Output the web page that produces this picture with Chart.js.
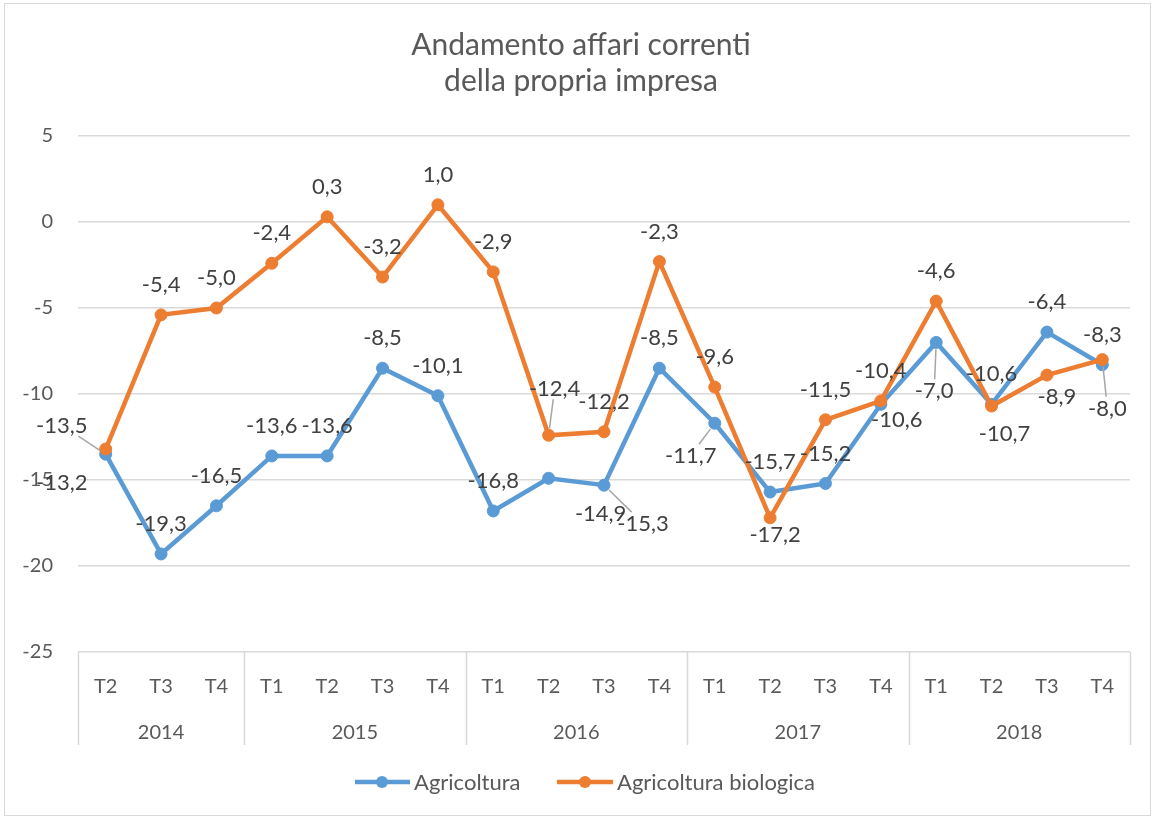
<!DOCTYPE html>
<html>
<head>
<meta charset="utf-8">
<script src="https://cdn.jsdelivr.net/npm/chart.js@4.4.1/dist/chart.umd.min.js"></script>
<style>
  html, body { margin: 0; padding: 0; background: #ffffff; }
  canvas { display: block; }
</style>
</head>
<body>
<canvas id="c" width="1156" height="818"></canvas>
<script>
// ---------- data ----------
const titleLines = ['Andamento affari correnti', 'della propria impresa'];
const quarters = ['T2','T3','T4','T1','T2','T3','T4','T1','T2','T3','T4','T1','T2','T3','T4','T1','T2','T3','T4'];
const years = ['2014','2015','2016','2017','2018'];
const yearSpans = [3, 4, 4, 4, 4];
const seriesNames = ['Agricoltura', 'Agricoltura biologica'];
const agricoltura = [-13.5,-19.3,-16.5,-13.6,-13.6,-8.5,-10.1,-16.8,-14.9,-15.3,-8.5,-11.7,-15.7,-15.2,-10.6,-7.0,-10.6,-6.4,-8.3];
const biologica   = [-13.2,-5.4,-5.0,-2.4,0.3,-3.2,1.0,-2.9,-12.4,-12.2,-2.3,-9.6,-17.2,-11.5,-10.4,-4.6,-10.7,-8.9,-8.0];
const yMin = -25, yMax = 5, yStep = 5;

// label placement codes (style, not data)
const agriPlace = ['farLeftUp','above','above','above','above','above','above','above','belowRightFar','belowRightLead','above','belowLeftLead','above','above','belowRightNear','belowLead','above','above','above'];
const bioPlace  = ['farLeftDown','above','above','above','above','above','above','above','aboveLead','above','above','above','belowNear','above','above','above','belowRight','belowRightSmall','belowLeadR'];
const PLACE = {
  above:          [0, -31, false],
  farLeftUp:      [-44, -29, true],
  farLeftDown:    [-44, 33, false],
  belowRightFar:  [52, 35, false],
  belowRightLead: [39, 38, true],
  belowLeftLead:  [-24, 32, true],
  belowRightNear: [16, 15, false],
  belowLead:      [-2, 48, true],
  belowNear:      [5, 16, false],
  aboveLead:      [6, -47, true],
  belowRight:     [13, 27, false],
  belowRightSmall:[10, 21, false],
  belowLeadR:     [5, 48, true]
};

const BLUE = '#5B9BD5', ORANGE = '#ED7D31';
const TEXT = '#595959', LABEL = '#404040', GRID = '#D9D9D9';
const FONT = 'Lato, "Open Sans", sans-serif';

function fmt(v) { return v.toFixed(1).replace('.', ','); }

const decor = {
  id: 'decor',
  beforeDraw(chart) {
    const ctx = chart.ctx;
    ctx.save();
    ctx.fillStyle = '#ffffff';
    ctx.fillRect(0, 0, chart.width, chart.height);
    ctx.restore();
  },
  afterDatasetsDraw(chart) {
    const ctx = chart.ctx;
    ctx.save();
    const sets = [[agricoltura, agriPlace, 0], [biologica, bioPlace, 1]];
    ctx.font = '22px ' + FONT;
    ctx.textAlign = 'center';
    ctx.textBaseline = 'middle';
    sets.forEach(([vals, places, di]) => {
      const meta = chart.getDatasetMeta(di);
      vals.forEach((v, i) => {
        const pt = meta.data[i];
        const p = PLACE[places[i]];
        const lx = pt.x + p[0], ly = pt.y + p[1];
        const txt = fmt(v);
        if (p[2]) {
          const w = ctx.measureText(txt).width / 2 + 3, h = 11;
          const dx = pt.x - lx, dy = pt.y - ly;
          const t = Math.min(Math.abs(dx) > 0 ? w / Math.abs(dx) : 1e9, Math.abs(dy) > 0 ? h / Math.abs(dy) : 1e9);
          const len = Math.hypot(dx, dy);
          const sx = lx + dx * t, sy = ly + dy * t;
          const ex = pt.x - dx / len * 7, ey = pt.y - dy / len * 7;
          ctx.strokeStyle = '#A6A6A6';
          ctx.lineWidth = 1.5;
          ctx.beginPath(); ctx.moveTo(sx, sy); ctx.lineTo(ex, ey); ctx.stroke();
        }
        ctx.fillStyle = LABEL;
        ctx.fillText(txt, lx, ly + 1);
      });
    });
    ctx.restore();
  },
  afterDraw(chart) {
    const ctx = chart.ctx;
    const xs = chart.scales.x;
    const area = chart.chartArea;
    ctx.save();
    ctx.strokeStyle = '#D9D9D9';
    ctx.lineWidth = 1;
    ctx.strokeRect(4.5, 3.5, 1146, 812);

    ctx.fillStyle = TEXT;
    ctx.font = '30px ' + FONT;
    ctx.textAlign = 'center';
    ctx.textBaseline = 'alphabetic';
    ctx.fillText(titleLines[0], 581, 55);
    ctx.fillText(titleLines[1], 581, 91);

    ctx.font = '20px ' + FONT;
    ctx.fillStyle = TEXT;
    quarters.forEach((q, i) => {
      ctx.fillText(q, xs.getPixelForValue(i), 693);
    });
    const bounds = [area.left];
    let idx = 0;
    yearSpans.forEach(n => {
      idx += n;
      if (idx < quarters.length) {
        bounds.push((xs.getPixelForValue(idx - 1) + xs.getPixelForValue(idx)) / 2);
      } else {
        bounds.push(area.right);
      }
    });
    ctx.strokeStyle = GRID;
    ctx.lineWidth = 1.5;
    bounds.forEach(b => {
      const bx = Math.round(b) + 0.5;
      ctx.beginPath(); ctx.moveTo(bx, area.bottom); ctx.lineTo(bx, 745); ctx.stroke();
    });
    years.forEach((y, i) => {
      ctx.fillText(y, (bounds[i] + bounds[i + 1]) / 2, 739);
    });

    const legend = [[BLUE, 355, 410, 382, 414], [ORANGE, 557, 613, 585, 617]];
    ctx.font = '22px ' + FONT;
    ctx.textAlign = 'left';
    legend.forEach((l, i) => {
      ctx.strokeStyle = l[0];
      ctx.lineWidth = 4.5;
      ctx.beginPath(); ctx.moveTo(l[1], 782); ctx.lineTo(l[2], 782); ctx.stroke();
      ctx.fillStyle = l[0];
      ctx.beginPath(); ctx.arc(l[3], 782, 6, 0, Math.PI * 2); ctx.fill();
      ctx.fillStyle = TEXT;
      ctx.fillText(seriesNames[i], l[4], 790);
    });
    ctx.restore();
  }
};

new Chart(document.getElementById('c'), {
  type: 'line',
  data: {
    labels: quarters,
    datasets: [
      { label: seriesNames[0], data: agricoltura, borderColor: BLUE, backgroundColor: BLUE,
        pointBackgroundColor: BLUE, pointBorderColor: BLUE, borderWidth: 4.5, pointRadius: 6,
        pointBorderWidth: 1, tension: 0, order: 1 },
      { label: seriesNames[1], data: biologica, borderColor: ORANGE, backgroundColor: ORANGE,
        pointBackgroundColor: ORANGE, pointBorderColor: ORANGE, borderWidth: 4.5, pointRadius: 6,
        pointBorderWidth: 1, tension: 0, order: 0 }
    ]
  },
  options: {
    responsive: false,
    animation: false,
    layout: { padding: { top: 136, left: 0, right: 26, bottom: 0 } },
    plugins: { legend: { display: false }, title: { display: false }, tooltip: { enabled: false } },
    scales: {
      x: {
        offset: true,
        grid: { display: false },
        border: { display: false },
        ticks: { display: false },
        afterFit(s) { s.height = 166; }
      },
      y: {
        min: yMin, max: yMax,
        ticks: { stepSize: yStep, color: TEXT, font: { family: FONT, size: 20 }, padding: 25 },
        grid: { color: GRID, lineWidth: 1.5, drawTicks: false },
        border: { display: false },
        afterFit(s) { s.width = 78; }
      }
    }
  },
  plugins: [decor]
});
</script>
</body>
</html>
